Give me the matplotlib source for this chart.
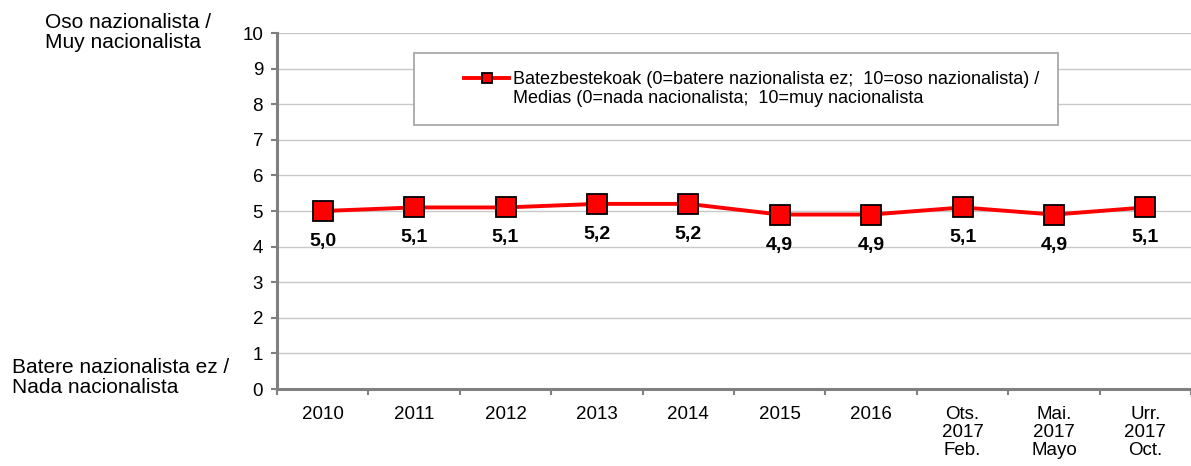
import matplotlib
matplotlib.use("Agg")
import matplotlib.pyplot as plt
from matplotlib.lines import Line2D
from matplotlib.patches import Rectangle
from matplotlib.ticker import FixedLocator

plt.rcParams['font.family'] = ['Liberation Sans', 'DejaVu Sans']

categories = ["2010", "2011", "2012", "2013", "2014", "2015", "2016",
              "Ots.\n2017\nFeb.", "Mai.\n2017\nMayo", "Urr.\n2017\nOct."]
values = [5.0, 5.1, 5.1, 5.2, 5.2, 4.9, 4.9, 5.1, 4.9, 5.1]
series_label_eu = "Batezbestekoak (0=batere nazionalista ez;  10=oso nazionalista) /"
series_label_es = "Medias (0=nada nacionalista;  10=muy nacionalista"
y_ticks = list(range(0, 11))

W, H = 1191, 466
fig = plt.figure(figsize=(W / 100, H / 100), dpi=100)
ax = fig.add_axes([277 / W, 1 - 389 / H, (W - 277) / W, (389 - 33) / H])

x = list(range(len(categories)))
line, = ax.plot(x, values, color="#ff0000", lw=2.8, marker="s", markersize=15,
                markerfacecolor="#ff0000", markeredgecolor="black",
                markeredgewidth=1.3, zorder=3, label=series_label_eu)

for xi, v in zip(x, values):
    ax.annotate(f"{v:.1f}".replace(".", ","), (xi, v), xytext=(0, -22),
                textcoords="offset points", ha="center", va="center",
                fontsize=14, fontweight="bold")

ax.set_xlim(-0.5, len(categories) - 0.5)
ax.set_ylim(0, 10)
ax.set_yticks(y_ticks)
ax.yaxis.grid(True, color="#c8c8c8", lw=1)
ax.set_axisbelow(True)

ax.set_xticks(x)
ax.set_xticklabels(categories, fontsize=13.5, linespacing=1.1, va="top")
ax.xaxis.set_minor_locator(FixedLocator([i + 0.5 for i in range(-1, len(categories))]))
ax.tick_params(axis="x", which="major", length=0, pad=12)
ax.tick_params(axis="x", which="minor", length=4, width=1.5, color="#808080")
ax.tick_params(axis="y", length=4, width=1.5, color="#808080", labelsize=13.5, pad=6)

for s in ("top", "right"):
    ax.spines[s].set_visible(False)
for s in ("left", "bottom"):
    ax.spines[s].set_color("#808080")
    ax.spines[s].set_linewidth(2.2)

# legend frame drawn as its own box, legend entry placed inside it
fig.patches.append(Rectangle((414 / W, 1 - 125 / H), (1058 - 414) / W, 72 / H,
                             transform=fig.transFigure, facecolor="white",
                             edgecolor="#a8a8a8", lw=1.3, zorder=5))
blank = Line2D([], [], lw=0, marker=None)
leg = fig.legend(handles=[line, blank], labels=[series_label_eu, series_label_es],
                 loc="center left", bbox_to_anchor=(464 / W, 1 - 89 / H),
                 fontsize=13, frameon=False, borderpad=0, borderaxespad=0,
                 handlelength=2.5, handletextpad=0.2, markerscale=0.45,
                 labelspacing=0.12)
leg.set_zorder(6)

fig.text(45 / W, 1 - 13 / H, "Oso nazionalista /\nMuy nacionalista",
         ha="left", va="top", fontsize=15, linespacing=1.05)
fig.text(12 / W, 1 - 358 / H, "Batere nazionalista ez /\nNada nacionalista",
         ha="left", va="top", fontsize=15, linespacing=1.05)

fig.savefig("out.png", dpi=100)
